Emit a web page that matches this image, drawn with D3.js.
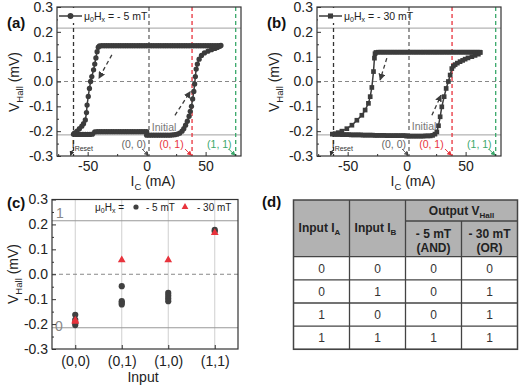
<!DOCTYPE html>
<html>
<head>
<meta charset="utf-8">
<script src="https://cdn.jsdelivr.net/npm/d3@7"></script>
<style>
  body { margin: 0; background: #fff; }
  svg { font-family: "Liberation Sans", Arial, sans-serif; }
</style>
</head>
<body>
<svg id="fig" width="520" height="385"></svg>
<script>
// ---- data ----
// (a) mu0Hx = -5 mT, sweep order: initial -> +I -> back to -I -> back to 0   [I (mA), V (mV)]
const loopMinus5 = [
  [0,-0.216],[2,-0.216],[4,-0.216],[6,-0.216],[8,-0.216],[10,-0.216],[12,-0.216],[14,-0.216],[16,-0.216],[18,-0.216],[20,-0.216],[22,-0.215],[24,-0.214],[26,-0.212],
  [28,-0.208],[30,-0.2],[31.5,-0.19],[33,-0.176],[34.5,-0.16],[36,-0.14],[37,-0.12],[38,-0.1],[39,-0.07],[40,-0.04],[40.7,-0.01],[41.3,0.02],[42,0.05],[43,0.07],[44.5,0.09],[46.5,0.105],[49,0.115],[52,0.122],[55,0.128],[58,0.133],[60,0.137],[62,0.142],[63,0.145],
  [62,0.144],[60,0.144],[58,0.144],[56,0.144],[54,0.144],[52,0.144],[50,0.144],[48,0.144],[46,0.144],[44,0.144],[42,0.144],[40,0.144],[38,0.144],[36,0.144],[34,0.144],[32,0.144],[30,0.144],[28,0.144],[26,0.144],[24,0.144],[22,0.144],[20,0.144],[18,0.144],[16,0.144],[14,0.144],[12,0.144],[10,0.144],[8,0.144],[6,0.144],[4,0.144],[2,0.144],[0,0.144],
  [-2,0.144],[-4,0.144],[-6,0.144],[-8,0.144],[-10,0.144],[-12,0.144],[-14,0.144],[-16,0.144],[-18,0.144],[-20,0.144],[-22,0.144],[-24,0.144],[-26,0.144],[-28,0.144],[-30,0.144],[-32,0.144],[-34,0.144],[-36,0.144],[-38,0.144],[-40,0.143],
  [-41,0.138],[-42,0.12],[-43,0.095],[-44,0.07],[-45,0.047],[-46.5,0.02],[-47.5,0.0],[-48.5,-0.028],[-49.5,-0.06],[-50.5,-0.095],[-51,-0.125],[-52,-0.155],[-53.5,-0.17],[-55,-0.18],[-57,-0.19],[-59,-0.2],[-61,-0.207],[-62,-0.212],
  [-60,-0.213],[-58,-0.213],[-56,-0.213],[-54,-0.213],[-52,-0.213],[-50,-0.213],[-48,-0.213],[-46,-0.212],[-44,-0.203],[-42,-0.202],[-40,-0.202],[-38,-0.202],[-36,-0.202],[-34,-0.202],[-32,-0.202],[-30,-0.202],[-28,-0.202],[-26,-0.202],[-24,-0.202],[-22,-0.202],[-20,-0.202],[-18,-0.202],[-16,-0.202],[-14,-0.202],[-12,-0.202],[-10,-0.202],[-8,-0.202],[-6,-0.202],[-4,-0.202],[-2,-0.202],[0,-0.202]
];

// (b) mu0Hx = -30 mT
const loopMinus30 = [
  [0,-0.22],[2,-0.22],[4,-0.22],[6,-0.22],[8,-0.22],[10,-0.22],[12,-0.22],[14,-0.22],[16,-0.219],[18,-0.219],[20,-0.219],[22,-0.217],
  [24,-0.212],[25.6,-0.203],[27,-0.178],[28.4,-0.142],[29.8,-0.102],[31.8,-0.061],[33.5,-0.028],[35.4,0.0],[36.9,0.026],[38.3,0.052],[39.6,0.062],[41.1,0.068],[43,0.074],[45.3,0.08],[47.5,0.085],[49.6,0.09],[52,0.095],[55.3,0.1],[58,0.105],[60.8,0.11],[62.5,0.117],
  [62,0.118],[60,0.118],[58,0.118],[56,0.118],[54,0.118],[52,0.118],[50,0.118],[48,0.118],[46,0.118],[44,0.118],[42,0.118],[40,0.118],[38,0.118],[36,0.118],[34,0.118],[32,0.118],[30,0.118],[28,0.118],[26,0.118],[24,0.118],[22,0.118],[20,0.118],[18,0.118],[16,0.118],[14,0.118],[12,0.118],[10,0.118],[8,0.118],[6,0.118],[4,0.118],[2,0.118],[0,0.118],
  [-2,0.118],[-4,0.118],[-6,0.118],[-8,0.118],[-10,0.118],[-12,0.118],[-14,0.118],[-16,0.118],[-18,0.118],[-20,0.118],[-22,0.118],[-24,0.118],[-26,0.117],
  [-26.8,0.112],[-27.3,0.094],[-28.1,0.04],[-29.5,-0.024],[-30.9,-0.061],[-32.4,-0.088],[-35.2,-0.115],[-38,-0.136],[-42.2,-0.156],[-46.4,-0.176],[-50.7,-0.19],[-54.9,-0.2],[-58,-0.206],[-60.6,-0.21],[-63,-0.212],
  [-61,-0.213],[-59,-0.213],[-57,-0.213],[-55,-0.214],[-53,-0.214],[-51,-0.214],[-49,-0.214],[-47,-0.215],[-45,-0.215],[-43,-0.215],[-41,-0.215],[-39,-0.215],[-37,-0.216],[-35,-0.216],[-33,-0.216],[-31,-0.216],[-29,-0.216],[-27,-0.217],[-25,-0.217],[-23,-0.217],[-21,-0.217],[-19,-0.217],[-17,-0.218],[-15,-0.218],[-13,-0.218],[-11,-0.218],[-9,-0.218],[-7,-0.218],[-5,-0.218],[-3,-0.218],[-1,-0.218]
];

const currentTicks = [-50, 0, 50];
const currentMinor = [-75, -25, 25, 75];
const hallTicks = [-0.3, -0.2, -0.1, 0.0, 0.1, 0.2, 0.3];
const hallMinor = [-0.25, -0.15, -0.05, 0.05, 0.15, 0.25];
const logicLevel = 0.215;

// currents used as inputs: I_Reset, (0,0), (0,1), (1,1)
const inputCurrents = [-62, 2, 38.5, 75.5];
const inputLabels = ["(0, 0)", "(0, 1)", "(1, 1)"];
const inputLabelEnds = [-0.5, 31.4, 72];

// dashed sweep-direction arrows [from, to]
const sweepArrowsA = [[[-29.5, 0.107], [-40.5, 0.013]], [[24, -0.136], [37, -0.041]]];
const sweepArrowsB = [[[-16.8, 0.094], [-22.5, 0.006]], [[21.4, -0.136], [29.2, -0.055]]];

// (c) V_Hall per input, repeated measurements
const inputCats = ["(0,0)", "(0,1)", "(1,0)", "(1,1)"];
const hallMinus5 = [[-0.163, -0.183, -0.196, -0.204], [-0.048, -0.108, -0.114, -0.121], [-0.075, -0.086, -0.097, -0.108], [0.178, 0.172]];
const hallMinus30 = [[-0.185, -0.19], [0.057], [0.057], [0.167]];

// (d) truth table
const inputA = [0, 0, 1, 1];
const inputB = [0, 1, 0, 1];
const outAnd = [0, 0, 0, 1];
const outOr = [0, 1, 1, 1];

// ---- drawing ----
const ink = "#3c3c3c";
const red = "#e8333c";
const green = "#3aa86a";
const inputColors = ["#333", "#666", red, green];

const svg = d3.select("#fig");
const defs = svg.append("defs");

function arrowMarker(id, color, size) {
  defs.append("marker")
    .attr("id", id)
    .attr("viewBox", "0 0 10 10")
    .attr("refX", 9).attr("refY", 5)
    .attr("markerUnits", "userSpaceOnUse")
    .attr("markerWidth", size).attr("markerHeight", size)
    .attr("orient", "auto")
    .append("path")
    .attr("d", "M0,0L10,5L0,10z")
    .attr("fill", color);
}
inputColors.forEach((c, i) => arrowMarker("arr" + i, c, 5));
arrowMarker("arrInk", ink, 7);

function hallLabel(g, x, y) {
  const t = g.append("text")
    .attr("transform", `translate(${x},${y}) rotate(-90)`)
    .attr("text-anchor", "middle")
    .attr("font-size", 14)
    .attr("fill", "#222");
  t.append("tspan").text("V");
  t.append("tspan").attr("dy", 4).attr("font-size", 9.5).text("Hall");
  t.append("tspan").attr("dy", -4).text(" (mV)");
}

function styleAxis(sel) {
  sel.select(".domain").remove();
  sel.selectAll(".tick line").attr("stroke", "#333");
  sel.selectAll(".tick text").attr("fill", "#222").attr("font-size", 14)
    .attr("font-family", "Liberation Sans, Arial, sans-serif");
}

function drawLoop(loop, { dx, tag, symbol, symbolSize, legendField, sweepArrows, initialAt }) {
  const left = 57 + dx, right = 241 + dx, top = 7, bottom = 156;
  const x = d3.scaleLinear([-76, 80], [left, right]);
  const y = d3.scaleLinear([-0.3, 0.3], [bottom, top]);
  const g = svg.append("g");

  // guide lines
  g.append("line")
    .attr("x1", left).attr("x2", right)
    .attr("y1", y(0)).attr("y2", y(0))
    .attr("stroke", "#888").attr("stroke-width", 1).attr("stroke-dasharray", "4,3");
  g.selectAll(".level").data([logicLevel, -logicLevel]).join("line")
    .attr("x1", left).attr("x2", right)
    .attr("y1", d => y(d)).attr("y2", d => y(d))
    .attr("stroke", "#a0a0a0").attr("stroke-width", 1);
  g.selectAll(".vin").data(inputCurrents).join("line")
    .attr("x1", d => x(d)).attr("x2", d => x(d))
    .attr("y1", top).attr("y2", bottom)
    .attr("stroke", (d, i) => inputColors[i])
    .attr("stroke-width", 1.3)
    .attr("stroke-dasharray", "4,3");

  // loop
  g.append("path")
    .datum(loop)
    .attr("fill", "none")
    .attr("stroke", ink)
    .attr("stroke-width", 1.5)
    .attr("d", d3.line().x(d => x(d[0])).y(d => y(d[1])));
  g.selectAll(".pt").data(loop).join("path")
    .attr("transform", d => `translate(${x(d[0])},${y(d[1])})`)
    .attr("d", d3.symbol(symbol, symbolSize))
    .attr("fill", ink);

  // sweep direction arrows
  g.selectAll(".sweep").data(sweepArrows).join("line")
    .attr("x1", d => x(d[0][0])).attr("y1", d => y(d[0][1]))
    .attr("x2", d => x(d[1][0])).attr("y2", d => y(d[1][1]))
    .attr("stroke", ink).attr("stroke-width", 1.3)
    .attr("stroke-dasharray", "4,3")
    .attr("marker-end", "url(#arrInk)");

  g.append("text")
    .attr("x", x(initialAt[0])).attr("y", y(initialAt[1]))
    .attr("font-size", 10.5).attr("fill", "#777")
    .text("Initial");

  // input annotations at the bottom
  const reset = g.append("text")
    .attr("x", x(inputCurrents[0] - 1.5)).attr("y", 148)
    .attr("font-size", 10.5).attr("fill", "#333");
  reset.append("tspan").text("I");
  reset.append("tspan").attr("dy", 2.5).attr("font-size", 7).text("Reset");
  g.append("line")
    .attr("x1", x(inputCurrents[0]) - 1).attr("y1", 150)
    .attr("x2", x(inputCurrents[0]) - 3).attr("y2", bottom - 0.5)
    .attr("stroke", "#333").attr("stroke-width", 1).attr("stroke-dasharray", "2,1.5")
    .attr("marker-end", "url(#arr0)");

  g.selectAll(".inlab").data(inputLabels).join("text")
    .attr("x", (d, i) => x(inputLabelEnds[i])).attr("y", 148)
    .attr("text-anchor", "end")
    .attr("font-size", 10.5)
    .attr("fill", (d, i) => inputColors[i + 1])
    .text(d => d);
  g.selectAll(".inarr").data(inputCurrents.slice(1)).join("line")
    .attr("x1", d => x(d) - 7).attr("y1", 149)
    .attr("x2", d => x(d) - 0.5).attr("y2", bottom - 0.5)
    .attr("stroke", (d, i) => inputColors[i + 1]).attr("stroke-width", 1)
    .attr("marker-end", (d, i) => `url(#arr${i + 1})`);

  // axes
  g.append("g").attr("transform", `translate(0,${bottom})`)
    .call(d3.axisBottom(x).tickValues(currentTicks).tickSize(-4).tickPadding(5).tickFormat(d => d))
    .call(styleAxis);
  g.append("g").attr("transform", `translate(0,${bottom})`)
    .call(d3.axisBottom(x).tickValues(currentMinor).tickSize(-2).tickFormat(""))
    .call(styleAxis);
  g.append("g").attr("transform", `translate(${left},0)`)
    .call(d3.axisLeft(y).tickValues(hallTicks).tickSize(-4).tickPadding(4).tickFormat(d => d.toFixed(1)))
    .call(styleAxis);
  g.append("g").attr("transform", `translate(${left},0)`)
    .call(d3.axisLeft(y).tickValues(hallMinor).tickSize(-2).tickFormat(""))
    .call(styleAxis);

  g.append("rect")
    .attr("x", left).attr("y", top)
    .attr("width", right - left).attr("height", bottom - top)
    .attr("fill", "none").attr("stroke", "#333").attr("stroke-width", 1.2);

  // legend
  g.append("rect")
    .attr("x", left + 1).attr("y", top + 1)
    .attr("width", 82).attr("height", 15)
    .attr("fill", "#fff");
  g.append("line")
    .attr("x1", left + 2).attr("x2", left + 25)
    .attr("y1", 16).attr("y2", 16)
    .attr("stroke", ink).attr("stroke-width", 1.5);
  g.append("path")
    .attr("transform", `translate(${left + 13.5},16)`)
    .attr("d", d3.symbol(symbol, symbolSize + 4))
    .attr("fill", ink);
  const lt = g.append("text").attr("x", left + 27).attr("y", 19.5)
    .attr("font-size", 10.5).attr("fill", "#222");
  lt.append("tspan").text("\u03bc");
  lt.append("tspan").attr("dy", 2.5).attr("font-size", 7).text("0");
  lt.append("tspan").attr("dy", -2.5).text("H");
  lt.append("tspan").attr("dy", 2.5).attr("font-size", 7).text("x");
  lt.append("tspan").attr("dy", -2.5).text(" = " + legendField);

  // labels
  hallLabel(g, dx + 19, 82);
  const xl = g.append("text")
    .attr("x", (left + right) / 2 + 4).attr("y", 186)
    .attr("text-anchor", "middle").attr("font-size", 14).attr("fill", "#222");
  xl.append("tspan").text("I");
  xl.append("tspan").attr("dy", 3.5).attr("font-size", 9.5).text("C");
  xl.append("tspan").attr("dy", -3.5).text(" (mA)");

  g.append("text")
    .attr("x", dx + 7).attr("y", 28)
    .attr("font-size", 15).attr("font-weight", "bold").attr("fill", "#111")
    .text(tag);
}

drawLoop(loopMinus5, {
  dx: 0, tag: "(a)", symbol: d3.symbolCircle, symbolSize: 22,
  legendField: "- 5 mT", sweepArrows: sweepArrowsA, initialAt: [4.4, -0.2]
});
drawLoop(loopMinus30, {
  dx: 260, tag: "(b)", symbol: d3.symbolSquare, symbolSize: 22,
  legendField: "- 30 mT", sweepArrows: sweepArrowsB, initialAt: [4.4, -0.194]
});

// ---- (c) logic outputs ----
function drawLogic() {
  const left = 52, right = 238, top = 199.5, bottom = 349;
  const x = d3.scaleLinear([-0.5, 3.5], [left, right]);
  const y = d3.scaleLinear([-0.3, 0.3], [bottom, top]);
  const g = svg.append("g");

  g.selectAll(".vcat").data(inputCats).join("line")
    .attr("x1", (d, i) => x(i)).attr("x2", (d, i) => x(i))
    .attr("y1", top).attr("y2", bottom)
    .attr("stroke", "#cfcfcf").attr("stroke-width", 1);
  g.append("line")
    .attr("x1", left).attr("x2", right)
    .attr("y1", y(0)).attr("y2", y(0))
    .attr("stroke", "#888").attr("stroke-dasharray", "4,3");
  g.selectAll(".level").data([logicLevel, -logicLevel]).join("line")
    .attr("x1", left).attr("x2", right)
    .attr("y1", d => y(d)).attr("y2", d => y(d))
    .attr("stroke", "#999").attr("stroke-width", 1.1);
  g.append("text").attr("x", left + 4).attr("y", y(logicLevel) - 3)
    .attr("font-size", 14).attr("fill", "#888").text("1");
  g.append("text").attr("x", left + 3).attr("y", y(-logicLevel) + 3.5)
    .attr("font-size", 14).attr("fill", "#888").text("0");

  const pts5 = hallMinus5.flatMap((vals, i) => vals.map(v => [i, v]));
  const pts30 = hallMinus30.flatMap((vals, i) => vals.map(v => [i, v]));
  g.selectAll(".c5").data(pts5).join("circle")
    .attr("cx", d => x(d[0])).attr("cy", d => y(d[1]))
    .attr("r", 3.1).attr("fill", "#404040");
  g.selectAll(".t30").data(pts30).join("path")
    .attr("transform", d => `translate(${x(d[0])},${y(d[1])})`)
    .attr("d", d3.symbol(d3.symbolTriangle, 26))
    .attr("fill", red);

  g.append("g").attr("transform", `translate(0,${bottom})`)
    .call(d3.axisBottom(x).tickValues([0, 1, 2, 3]).tickSize(-4).tickPadding(7).tickFormat(i => inputCats[i]))
    .call(styleAxis);
  g.append("g").attr("transform", `translate(${left},0)`)
    .call(d3.axisLeft(y).tickValues(hallTicks).tickSize(-4).tickPadding(4).tickFormat(d => d.toFixed(1)))
    .call(styleAxis);
  g.append("g").attr("transform", `translate(${left},0)`)
    .call(d3.axisLeft(y).tickValues(hallMinor).tickSize(-2).tickFormat(""))
    .call(styleAxis);

  g.append("rect")
    .attr("x", left).attr("y", top)
    .attr("width", right - left).attr("height", bottom - top)
    .attr("fill", "none").attr("stroke", "#333").attr("stroke-width", 1.2);

  // legend
  const lt = g.append("text").attr("x", 95).attr("y", 210.5)
    .attr("font-size", 10).attr("fill", "#222");
  lt.append("tspan").text("\u03bc");
  lt.append("tspan").attr("dy", 2.5).attr("font-size", 7).text("0");
  lt.append("tspan").attr("dy", -2.5).text("H");
  lt.append("tspan").attr("dy", 2.5).attr("font-size", 7).text("x");
  lt.append("tspan").attr("dy", -2.5).text(" =");
  g.append("circle").attr("cx", 136).attr("cy", 207).attr("r", 2.6).attr("fill", "#404040");
  g.append("text").attr("x", 146).attr("y", 210.5).attr("font-size", 10).attr("fill", "#222").text("- 5 mT");
  g.append("path").attr("transform", "translate(185,207)")
    .attr("d", d3.symbol(d3.symbolTriangle, 20)).attr("fill", red);
  g.append("text").attr("x", 197).attr("y", 210.5).attr("font-size", 10).attr("fill", "#222").text("- 30 mT");

  hallLabel(g, 18, 274);
  g.append("text").attr("x", 143).attr("y", 382)
    .attr("text-anchor", "middle").attr("font-size", 14).attr("fill", "#222").text("Input");
  g.append("text").attr("x", 7).attr("y", 208)
    .attr("font-size", 15).attr("font-weight", "bold").attr("fill", "#111").text("(c)");
}
drawLogic();

// ---- (d) truth table ----
function drawTable() {
  const left = 293.5, right = 517.5, top = 200, headBottom = 256.7, subLine = 221, bottom = 349.3;
  const col = d3.scaleBand([0, 1, 2, 3], [left, right]);
  const row = d3.scaleBand([0, 1, 2, 3], [headBottom, bottom]);
  const g = svg.append("g");
  const line = "#444";

  g.append("rect").attr("x", left).attr("y", top)
    .attr("width", right - left).attr("height", headBottom - top)
    .attr("fill", "#b2b2b2");

  // grid
  g.selectAll(".hl").data(row.domain().map(r => row(r)).concat([bottom])).join("line")
    .attr("x1", left).attr("x2", right).attr("y1", d => d).attr("y2", d => d)
    .attr("stroke", line).attr("stroke-width", 1.3);
  g.append("line").attr("x1", col(2)).attr("x2", right).attr("y1", subLine).attr("y2", subLine)
    .attr("stroke", line).attr("stroke-width", 1.3);
  g.selectAll(".vl").data([1, 2]).join("line")
    .attr("x1", d => col(d)).attr("x2", d => col(d)).attr("y1", top).attr("y2", bottom)
    .attr("stroke", line).attr("stroke-width", 1.3);
  g.append("line").attr("x1", col(3)).attr("x2", col(3)).attr("y1", subLine).attr("y2", bottom)
    .attr("stroke", line).attr("stroke-width", 1.3);
  g.append("rect").attr("x", left).attr("y", top)
    .attr("width", right - left).attr("height", bottom - top)
    .attr("fill", "none").attr("stroke", line).attr("stroke-width", 1.5);

  const head = (x, y) => g.append("text").attr("x", x).attr("y", y)
    .attr("text-anchor", "middle").attr("font-size", 12).attr("font-weight", "bold").attr("fill", "#222");
  const cx = c => col(c) + col.bandwidth() / 2;

  [["A", 0], ["B", 1]].forEach(([s, c]) => {
    const t = head(cx(c) - 2, 232);
    t.append("tspan").text("Input I");
    t.append("tspan").attr("dy", 3).attr("font-size", 8).text(s);
  });
  const out = head(col(3), 215);
  out.append("tspan").text("Output V");
  out.append("tspan").attr("dy", 3).attr("font-size", 8).text("Hall");
  head(cx(2), 238).text("- 5 mT");
  head(cx(2), 252).text("(AND)");
  head(cx(3), 238).text("- 30 mT");
  head(cx(3), 252).text("(OR)");

  const rows = inputA.map((a, i) => [a, inputB[i], outAnd[i], outOr[i]]);
  rows.forEach((r, ri) => {
    g.selectAll(null).data(r).join("text")
      .attr("x", (d, c) => cx(c)).attr("y", row(ri) + row.bandwidth() / 2 + 4.5)
      .attr("text-anchor", "middle").attr("font-size", 12).attr("fill", "#333")
      .text(d => d);
  });

  g.append("text").attr("x", 262).attr("y", 207)
    .attr("font-size", 15).attr("font-weight", "bold").attr("fill", "#111").text("(d)");
}
drawTable();
</script>
</body>
</html>
